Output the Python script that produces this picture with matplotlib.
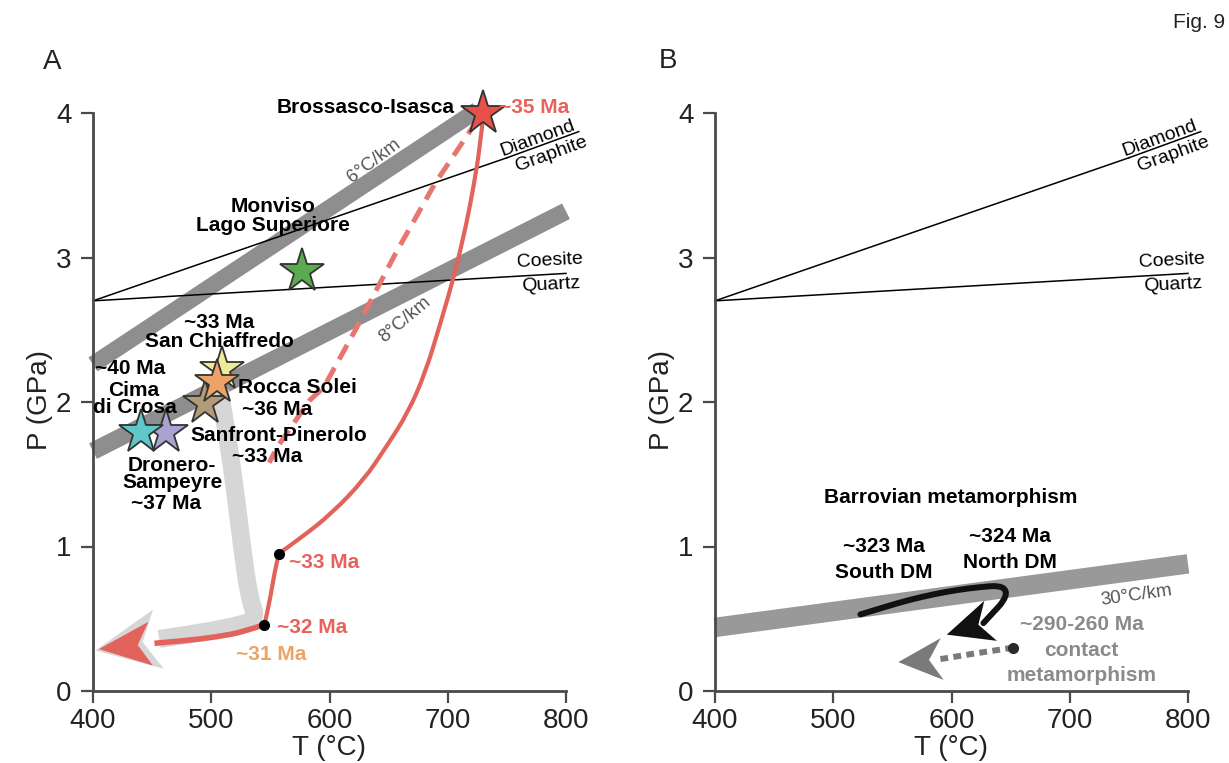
import numpy as np
import matplotlib
matplotlib.use("Agg")
import matplotlib.pyplot as plt
from matplotlib.patches import Polygon, PathPatch
from matplotlib.path import Path
from matplotlib.lines import Line2D

plt.rcParams['font.family'] = ['Liberation Sans', 'DejaVu Sans']

# ---------------- data ----------------
x_ticks = [400, 500, 600, 700, 800]
y_ticks = [0, 1, 2, 3, 4]

# reaction lines (T degC, P GPa)
diamond_T = [400, 750]
diamond_P = [2.70, 3.69]
coesite_T = [400, 800]
coesite_P = [2.70, 2.89]

# geotherm bands, panel A
geo6_T = [400, 725]
geo6_P = [2.26, 4.02]
geo8_T = [400, 800]
geo8_P = [1.66, 3.32]
# geotherm band, panel B
geo30_T = [400, 800]
geo30_P = [0.44, 0.88]

# light grey retrograde path (last point = arrow tip)
grey_T = [507, 514, 520, 526, 532, 539, 515, 489, 456, 402]
grey_P = [2.08, 1.75, 1.40, 1.00, 0.65, 0.49, 0.44, 0.40, 0.36, 0.28]

# red P-T path (Brossasco-Isasca): three pieces, last point of the lower one = arrow tip
red_up_T = [730, 727, 722, 716, 706, 694, 681, 666, 648, 629, 602, 576, 557]
red_up_P = [3.98, 3.75, 3.50, 3.24, 2.89, 2.55, 2.20, 1.92, 1.69, 1.46, 1.23, 1.06, 0.95]
red_mid_T = [557, 553, 549, 545]
red_mid_P = [0.95, 0.80, 0.60, 0.46]
red_low_T = [545, 528, 505, 480, 452, 405]
red_low_P = [0.46, 0.41, 0.375, 0.35, 0.33, 0.29]
red_dash_T = [725, 689, 656, 622, 595, 583, 556, 549]
red_dash_P = [3.95, 3.51, 3.03, 2.50, 2.10, 2.01, 1.69, 1.58]
dots_A_T = [557, 545]
dots_A_P = [0.95, 0.46]

# stars: T, P, colour
star_names = ['Brossasco-Isasca', 'Monviso', 'San Chiaffredo', 'Cima di Crosa',
              'Rocca Solei', 'Sampeyre', 'Dronero']
star_T = [730, 577, 509, 495, 505, 462, 441]
star_P = [4.00, 2.91, 2.23, 1.99, 2.14, 1.79, 1.79]
star_col = ['#e8504a', '#5aab50', '#eeea9a', '#b39a78', '#eda266', '#aaa3d2', '#5ec8c8']

# panel B paths
black_T = [523, 545, 564, 585, 605, 625, 641, 647, 644, 636, 627, 596]
black_P = [0.53, 0.585, 0.63, 0.67, 0.70, 0.72, 0.73, 0.69, 0.62, 0.55, 0.47, 0.39]
gdash_T = [652, 620, 590, 555]
gdash_P = [0.30, 0.26, 0.22, 0.20]

# text labels: (text, T, P, ha, colour, weight)
labels_A = [
    ("Brossasco-Isasca", 706, 4.04, 'right', 'black', 'bold'),
    ("~35 Ma", 743, 4.04, 'left', '#e8625b', 'bold'),
    ("Monviso", 552, 3.35, 'center', 'black', 'bold'),
    ("Lago Superiore", 552, 3.22, 'center', 'black', 'bold'),
    ("~33 Ma", 507, 2.55, 'center', 'black', 'bold'),
    ("San Chiaffredo", 507, 2.42, 'center', 'black', 'bold'),
    ("~40 Ma", 431, 2.235, 'center', 'black', 'bold'),
    ("Cima", 434, 2.08, 'center', 'black', 'bold'),
    ("di Crosa", 435, 1.96, 'center', 'black', 'bold'),
    ("Rocca Solei", 523, 2.10, 'left', 'black', 'bold'),
    ("~36 Ma", 556, 1.95, 'center', 'black', 'bold'),
    ("Sanfront-Pinerolo", 557, 1.77, 'center', 'black', 'bold'),
    ("~33 Ma", 547, 1.62, 'center', 'black', 'bold'),
    ("Dronero-", 467, 1.56, 'center', 'black', 'bold'),
    ("Sampeyre", 467, 1.44, 'center', 'black', 'bold'),
    ("~37 Ma", 462, 1.30, 'center', 'black', 'bold'),
    ("~33 Ma", 566, 0.89, 'left', '#e8625b', 'bold'),
    ("~32 Ma", 556, 0.44, 'left', '#e8625b', 'bold'),
    ("~31 Ma", 551, 0.25, 'center', '#eba466', 'bold'),
]
labels_B = [
    ("Barrovian metamorphism", 599, 1.34, 'center', 'black', 'bold'),
    ("~323 Ma", 543, 1.00, 'center', 'black', 'bold'),
    ("South DM", 543, 0.82, 'center', 'black', 'bold'),
    ("~324 Ma", 649, 1.07, 'center', 'black', 'bold'),
    ("North DM", 649, 0.89, 'center', 'black', 'bold'),
    ("~290-260 Ma", 710, 0.46, 'center', '#8a8a8a', 'bold'),
    ("contact", 710, 0.28, 'center', '#8a8a8a', 'bold'),
    ("metamorphism", 710, 0.11, 'center', '#8a8a8a', 'bold'),
]

# ---------------- figure ----------------
W, H = 1229, 763
fig = plt.figure(figsize=(W / 100, H / 100), dpi=100)
axA = fig.add_axes([93 / W, 72 / H, 473 / W, 578 / H])
axB = fig.add_axes([715 / W, 72 / H, 473 / W, 578 / H])

AX_COL = '#4a4a4a'
BAND = '#8e8e8e'
LBL_FS = 15


def style_axes(ax):
    ax.set_xlim(400, 800)
    ax.set_ylim(0, 4)
    for s in ['top', 'right']:
        ax.spines[s].set_visible(False)
    for s in ['left', 'bottom']:
        ax.spines[s].set_color(AX_COL)
        ax.spines[s].set_linewidth(2.0)
    ax.set_xticks(x_ticks)
    ax.set_yticks(y_ticks)
    ax.tick_params(axis='both', direction='out', length=8.5, width=1.6,
                   color=AX_COL, labelsize=20, labelcolor='#222222')
    ax.tick_params(axis='x', pad=4)
    ax.tick_params(axis='y', pad=7)
    ax.patch.set_alpha(0)
    ax.text(0.5, -0.098, "T (°C)", transform=ax.transAxes, ha='center', va='center',
            fontsize=20, color='#222222')
    ax.text(-0.112, 0.503, "P (GPa)", transform=ax.transAxes, ha='center', va='center',
            rotation=90, fontsize=20, color='#222222')


renderer = fig.canvas.get_renderer()


def reaction_lines(ax):
    ax.plot(diamond_T, diamond_P, color='black', lw=1.1, zorder=2, clip_on=False)
    ax.plot(coesite_T, coesite_P, color='black', lw=1.1, zorder=2, clip_on=False)
    # Diamond (underlined, continuing the reaction line) / Graphite
    ang = np.deg2rad(20)
    d = np.array([np.cos(ang), np.sin(ang)])
    n = np.array([-d[1], d[0]])
    start = ax.transData.transform((diamond_T[-1], diamond_P[-1]))
    inv = ax.transData.inverted()
    tmp = ax.text(0, 0, "Diamond", fontsize=14)
    wdt = tmp.get_window_extent(renderer).width
    tmp.remove()
    a = inv.transform(start - d * 4 + n * 3)
    ax.text(a[0], a[1], "Diamond", rotation=20, rotation_mode='anchor', ha='left',
            va='baseline', fontsize=14, zorder=6)
    ul = inv.transform(np.array([start, start + d * (wdt - 2)]))
    ax.add_line(Line2D(ul[:, 0], ul[:, 1], color='black', lw=1.1, zorder=2, clip_on=False))
    g = inv.transform(start + d * 6 - n * 3)
    ax.text(g[0], g[1], "Graphite", rotation=20, rotation_mode='anchor', ha='left',
            va='top', fontsize=14, zorder=6)
    ax.text(786, 2.98, "Coesite", ha='center', va='center', rotation=3,
            fontsize=14, zorder=6)
    ax.text(787, 2.81, "Quartz", ha='center', va='center', rotation=3,
            fontsize=14, zorder=6)


def smooth(ax, xs, ys, **kw):
    """Draw a smooth quadratic curve guided by the given points."""
    pts = list(zip(xs, ys))
    verts = [pts[0]]
    codes = [Path.MOVETO]
    if len(pts) == 2:
        verts.append(pts[1])
        codes.append(Path.LINETO)
    else:
        for i in range(1, len(pts) - 1):
            ctrl = pts[i]
            if i == len(pts) - 2:
                end = pts[i + 1]
            else:
                end = ((pts[i][0] + pts[i + 1][0]) / 2, (pts[i][1] + pts[i + 1][1]) / 2)
            verts += [ctrl, end]
            codes += [Path.CURVE3, Path.CURVE3]
    patch = PathPatch(Path(verts, codes), fill=False, clip_on=False, **kw)
    ax.add_patch(patch)


def arrowhead(ax, xs, ys, length, halfw, notch, color, z):
    trans = ax.transData
    tip = trans.transform((xs[-1], ys[-1]))
    prev = trans.transform((xs[-2], ys[-2]))
    d = tip - prev
    d = d / np.hypot(*d)
    n = np.array([-d[1], d[0]])
    base = tip - d * length
    pts = np.array([tip, base + n * halfw, tip - d * length * (1 - notch), base - n * halfw])
    data = trans.inverted().transform(pts)
    ax.add_patch(Polygon(data, closed=True, fc=color, ec='none', zorder=z, clip_on=False))


for ax in (axA, axB):
    style_axes(ax)
    reaction_lines(ax)

# ---------- panel A ----------
axA.plot(geo6_T, geo6_P, color=BAND, lw=12, solid_capstyle='butt', zorder=1, clip_on=False)
axA.plot(geo8_T, geo8_P, color=BAND, lw=12.5, solid_capstyle='butt', zorder=1, clip_on=False)
axA.text(638, 3.67, "6°C/km", rotation=37, ha='center', va='center', fontsize=13.5,
         color='#555555', zorder=6)
axA.text(664, 2.57, "8°C/km", rotation=40, ha='center', va='center', fontsize=13.5,
         color='#555555', zorder=6)

# light grey path
smooth(axA, grey_T[:-1], grey_P[:-1], ec='#d6d6d6', lw=13, capstyle='butt',
       joinstyle='round', zorder=2.5)
arrowhead(axA, grey_T, grey_P, 64, 30, 0.25, '#d6d6d6', 2.5)

# red path
RED = '#e2625c'
smooth(axA, red_up_T, red_up_P, ec=RED, lw=3.0, capstyle='round', zorder=3)
smooth(axA, red_mid_T, red_mid_P, ec=RED, lw=3.0, capstyle='round', zorder=3)
smooth(axA, red_low_T[:-1], red_low_P[:-1], ec=RED, lw=4.0, capstyle='butt', zorder=3)
arrowhead(axA, red_low_T, red_low_P, 52, 22, 0.25, RED, 3)
axA.plot(red_dash_T, red_dash_P, color='#e87670', lw=3.6, dashes=(3.3, 1.9),
         zorder=3, clip_on=False)
axA.plot(dots_A_T, dots_A_P, 'o', color='black', ms=7, zorder=4, clip_on=False)

# stars
for i in range(len(star_T)):
    axA.plot(star_T[i], star_P[i], marker='*', ms=33, mfc=star_col[i], mec='#333333',
             mew=1.3, zorder=4 + i * 0.01, clip_on=False)

for t, x, y, ha, c, w in labels_A:
    axA.text(x, y, t, ha=ha, va='center', color=c, fontweight=w, fontsize=LBL_FS, zorder=7)

# ---------- panel B ----------
axB.plot(geo30_T, geo30_P, color='#999999', lw=14, solid_capstyle='butt', zorder=1,
         clip_on=False)
axB.text(756, 0.66, "30°C/km", rotation=8, ha='center', va='center', fontsize=13.5,
         color='#555555', zorder=6)
smooth(axB, black_T[:-1], black_P[:-1], ec='#111111', lw=4.3, capstyle='round', zorder=3)
arrowhead(axB, black_T, black_P, 46, 21, 0.28, '#111111', 3)
axB.plot(gdash_T[:-1], gdash_P[:-1], color='#7a7a7a', lw=4.3, dashes=(1.3, 0.9),
         zorder=3, clip_on=False)
arrowhead(axB, gdash_T, gdash_P, 44, 21, 0.3, '#7a7a7a', 3)
axB.plot([gdash_T[0]], [gdash_P[0]], 'o', color='#2a2a2a', ms=7, zorder=4, clip_on=False)

for t, x, y, ha, c, w in labels_B:
    axB.text(x, y, t, ha=ha, va='center', color=c, fontweight=w, fontsize=LBL_FS, zorder=7)

# panel letters and figure label
fig.text(52 / W, 1 - 62 / H, "A", ha='center', va='center', fontsize=20, color='#222222')
fig.text(668 / W, 1 - 61 / H, "B", ha='center', va='center', fontsize=20, color='#222222')
fig.text(1225 / W, 1 - 22 / H, "Fig. 9", ha='right', va='center', fontsize=15,
         color='#222222')

fig.savefig("out.png", dpi=100)
